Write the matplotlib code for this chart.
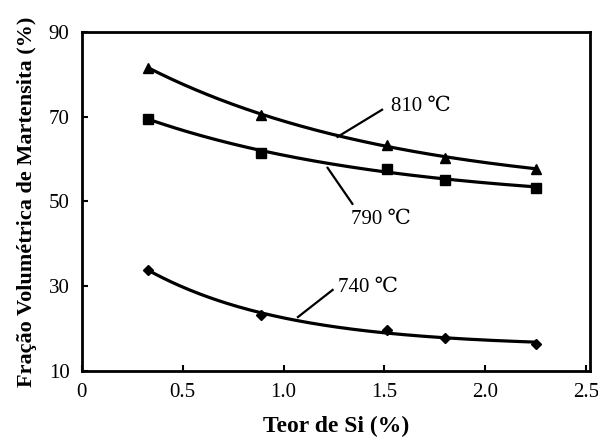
import numpy as np
import matplotlib.pyplot as plt

plt.rcParams['font.family'] = ['Liberation Serif', 'DejaVu Serif']

# teor de Si (%)
si = [0.33, 0.89, 1.51, 1.80, 2.25]
# fração de martensita (%) por temperatura
m810 = [81.5, 70.4, 63.3, 60.3, 57.7]
m790 = [69.5, 61.4, 57.7, 55.1, 53.2]
m740 = [33.8, 23.2, 19.7, 17.8, 16.4]

series = [
    (m810, '^', 7.5, '810 ℃', (1.68, 72.3), (1.488, 71.6), (1.267, 65.2)),
    (m790, 's', 6.5, '790 ℃', (1.48, 45.8), (1.341, 49.4), (1.218, 57.9)),
    (m740, 'D', 5.5, '740 ℃', (1.42, 29.6), (1.243, 29.1), (1.071, 22.7)),
]


def fit_exp(x, y):
    # ajuste y = a + b*exp(-c*x), busca em c + minimos quadrados
    x = np.asarray(x)
    y = np.asarray(y)
    best = None
    for c in np.linspace(0.1, 4, 400):
        A = np.column_stack([np.ones_like(x), np.exp(-c * x)])
        sol, res, *_ = np.linalg.lstsq(A, y, rcond=None)
        err = np.sum((A @ sol - y) ** 2)
        if best is None or err < best[0]:
            best = (err, c, sol)
    _, c, (a, b) = best
    return lambda t: a + b * np.exp(-c * t)


fig = plt.figure(figsize=(5.98, 4.41), dpi=100)
ax = fig.add_axes([0.137, 0.159, 0.85, 0.769])

xs = np.linspace(si[0], si[-1], 200)
for ys, mk, ms, lab, txy, p0, p1 in series:
    f = fit_exp(si, ys)
    ax.plot(xs, f(xs), color='black', lw=2.3)
    ax.plot(si, ys, mk, color='black', ms=ms)
    ax.text(txy[0], txy[1], lab, fontsize=15, ha='center', va='center')
    ax.plot([p0[0], p1[0]], [p0[1], p1[1]], color='black', lw=1.6)

ax.set_xlim(0, 2.52)
ax.set_ylim(10, 90)
ax.set_xticks([0, 0.5, 1.0, 1.5, 2.0, 2.5])
ax.set_xticklabels(['0', '0.5', '1.0', '1.5', '2.0', '2.5'])
ax.set_yticks([10, 30, 50, 70, 90])
ax.tick_params(direction='in', length=4, width=1.5, labelsize=15, pad=9)
for s in ax.spines.values():
    s.set_linewidth(2)

ax.set_xlabel('Teor de Si (%)', fontsize=17, fontweight='bold', labelpad=10)
ax.set_ylabel('Fração Volumétrica de Martensita (%)', fontsize=16,
              fontweight='bold', labelpad=8)

fig.savefig('out.png', dpi=100)
